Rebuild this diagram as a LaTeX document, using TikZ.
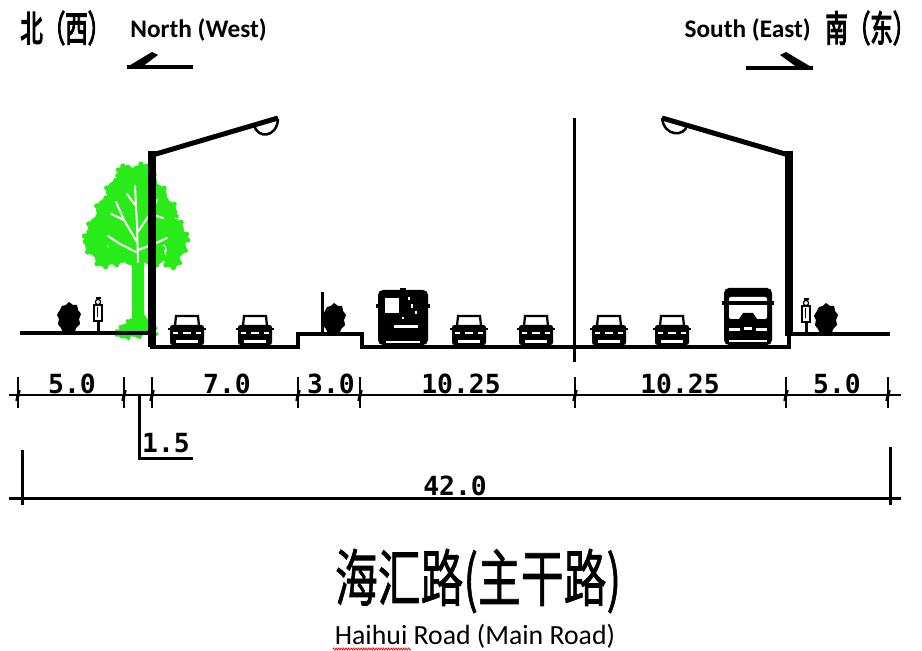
\documentclass[tikz,border=0pt]{standalone}
\usepackage{fontspec}
\usetikzlibrary{decorations.pathmorphing}
\newfontfamily\cjkfont[FakeBold=1.2]{Noto Sans CJK SC}
\newfontfamily\cjkheavy[FakeBold=4]{Noto Sans CJK SC}
\newfontfamily\labelfont{Carlito}
\newfontfamily\dimfont{DejaVu Sans Mono}
\definecolor{leafgreen}{RGB}{40,235,25}

\tikzset{
  ground/.style={line width=0.08cm, line join=miter},
  polestroke/.style={line width=0.15cm},
  armstroke/.style={line width=0.1cm},
  lampstroke/.style={line width=0.05cm},
  dimline/.style={line width=0.06cm},
  tickmark/.style={line width=0.025cm},
  tickslash/.style={line width=0.06cm},
  dimtext/.style={font=\dimfont\bfseries\fontsize{15}{15}\selectfont, inner sep=0pt},
  headcjk/.style={font=\cjkheavy\fontsize{12.8}{13}\selectfont, inner sep=0pt, yscale=1.6},
  headlat/.style={font=\labelfont\bfseries\fontsize{14.4}{15}\selectfont, inner sep=0pt},
  % front view of a car, origin at the middle of its bottom edge
  carfront/.pic={
    \draw[line width=0.045cm, fill=white] (-12,-19) -- (-11,-29) -- (11,-29) -- (12,-19);
    \fill[rounded corners=0.05cm] (-17,0) rectangle (17,-20);
    \fill (-19,-17) rectangle (19,-14.5);
    \fill[white] (-11,-2) rectangle (11,-4.5);
    \fill[white] (-14,-11) rectangle (-9,-12.5);
    \fill[white] (9,-11) rectangle (14,-12.5);
    \fill[white] (-4,-11) rectangle (4,-12.5);
  },
  % dark bus seen from the front
  busdark/.pic={
    \fill[rounded corners=0.1cm] (-25,0) rectangle (25,-55);
    \fill (-3,-57) rectangle (3,-54);
    \fill (-27,-41) rectangle (27,-37);
    \fill[white] (-18,-32) rectangle (-4,-47);
    \fill[white] (8,-37) rectangle (10,-41);
    \fill[white] (12,-31) rectangle (14,-34);
    \fill[white] (5,-45) rectangle (7,-48);
    \fill[white] (-9,-17) rectangle (15,-20);
    \fill[white] (-17,-1.5) rectangle (17,-4);
    \fill[white] (-1,-26) rectangle (1,-28);
  },
  % bus with a large windscreen
  buswindow/.pic={
    \fill[rounded corners=0.1cm] (-24,0) rectangle (24,-57);
    \fill[white, rounded corners=0.04cm] (-19,-48) rectangle (19,-26);
    \fill (-9,-26) -- (-5,-32) -- (5,-32) -- (9,-26) -- cycle;
    \fill[white] (-19,-17) rectangle (-8,-14);
    \fill[white] (8,-17) rectangle (19,-14);
    \fill[white] (-4,-18) rectangle (4,-15);
    \fill[white] (-19,-5) rectangle (19,-2.5);
    \fill (-26,-44) rectangle (26,-40);
  },
  % pedestrian outline
  walker/.pic={
    \fill (-2.5,-36) rectangle (2.5,-34);
    \draw[line width=0.025cm, fill=white] (0,-31) circle (2.6);
    \draw[line width=0.03cm, fill=white] (-4,-28) rectangle (4,-12);
    \draw[line width=0.02cm] (-1,-26) -- (-1,-16);
    \draw[line width=0.06cm] (0,-12) -- (0,0);
  },
  % low shrub
  bush/.pic={
    \fill plot[smooth cycle] coordinates {(-5,0) (-8,-5) (-11,-9) (-10,-14) (-12,-18)
       (-9,-23) (-7,-27) (-3,-28) (0,-31) (4,-28) (8,-28) (9,-23) (12,-19) (10,-14)
       (11,-9) (7,-5) (5,0)};
  }
}

\begin{document}
\begin{tikzpicture}[x=0.02cm, y=-0.02cm]
\useasboundingbox (0,0) rectangle (922,651);

% ---------- direction headers ----------
\node[headcjk, anchor=west] (nw) at (20,28) {北（西）};
\node[headlat, anchor=west] (nwtext) at (130,30) {North (West)};
\node[headlat, anchor=east] (setext) at (811,30) {South (East)};
\node[headcjk, anchor=west] (se) at (825,28) {南（东）};

\coordinate (wtip) at (127,67);
\coordinate (wtail) at (193,67);
\draw[line width=0.065cm] (wtail) -- (wtip);
\fill (wtip) -- (152,52) -- (158,55) -- (142,67) -- cycle;
\coordinate (etip) at (813,68);
\coordinate (etail) at (746,68);
\draw[line width=0.065cm] (etail) -- (etip);
\fill (etip) -- (786,52) -- (780,55) -- (798,68) -- cycle;

% ---------- tree on the west verge ----------
\begin{scope}[leafgreen]
  \fill (132,255) rectangle (144,330);
  \foreach \cx/\cy/\r in {130/180/13, 145/182/12, 118/192/12, 155/196/12, 108/210/12,
      165/212/12, 100/228/12, 172/230/12, 96/245/11, 176/247/10, 104/258/9, 172/260/8,
      120/230/20, 150/230/20, 135/205/18, 135/250/16, 115/255/10, 155/255/10,
      90/238/6, 182/238/6, 124/172/6, 142/170/6} {
    \fill (\cx,\cy) circle (\r);
    \foreach \a in {20,80,...,320}
      \fill (\cx,\cy) ++(\a:\r) circle (2.6);
  }
  \foreach \cx/\cy/\r in {125/330/6, 133/325/7, 142/323/7, 150/328/6, 138/332/6,
      127/334/5, 153/334/4, 120/333/4} {
    \fill (\cx,\cy) circle (\r);
    \foreach \a in {0,72,...,288}
      \fill (\cx,\cy) ++(\a:\r) circle (1.8);
  }
\end{scope}
\begin{scope}[white, line width=0.04cm, line cap=round, line join=round]
  \draw (138,262) -- (137,225) -- (135,186);
  \draw (137,242) -- (124,220) -- (116,202);
  \draw (137,233) -- (150,214) -- (157,200);
  \draw (136,252) -- (120,244) -- (108,236);
  \draw (138,250) -- (154,244) -- (167,238);
  \draw (124,220) -- (111,214);
  \draw (150,214) -- (163,218);
  \draw (135,205) -- (127,194);
\end{scope}

% ---------- ground profile and centre line ----------
\draw[ground] (20,333) -- (152,333) -- (152,347) -- (298,347) -- (298,334)
   -- (362,334) -- (362,347) -- (789,347) -- (789,334) -- (890,334);
\draw[line width=0.06cm] (574,118) -- (574,362);

% ---------- street lamps ----------
\draw[polestroke] (152,347) -- (152,151);
\draw[armstroke] (149,156) -- (278,118);
\draw[lampstroke] (254,125) .. controls (257,139) and (277,138) .. (278,119);
\draw[polestroke] (789,336) -- (789,151);
\draw[armstroke] (792,156) -- (662,118);
\draw[lampstroke] (662,118) .. controls (664,137) and (685,137) .. (687,125);

% ---------- sidewalks and median ----------
\pic (shrubw) at (69,333) {bush};
\pic (pedw) at (98,333) {walker};
\draw[line width=0.06cm] (322,292) -- (322,334);
\pic (shrubm) at (334,334) {bush};
\pic (pede) at (806,334) {walker};
\pic (shrube) at (826,334) {bush};

% ---------- traffic ----------
\pic (car1) at (187,345) {carfront};
\pic (car2) at (255,345) {carfront};
\pic (bus1) at (403,345) {busdark};
\pic (car3) at (469,345) {carfront};
\pic (car4) at (536,345) {carfront};
\pic (car5) at (609,345) {carfront};
\pic (car6) at (672,345) {carfront};
\pic (bus2) at (748,345) {buswindow};

% ---------- widths ----------
\foreach \n/\x in {d0/18, d1/124, d2/152, d3/298, d4/360, d5/575, d6/786, d7/888}
  \coordinate (\n) at (\x,395);
\coordinate (dl) at (9,395);
\coordinate (dr) at (901,395);
\draw[dimline] (dl) -- (dr);
\foreach \n in {d0, d1, d2, d3, d4, d5, d6, d7} {
  \draw[tickmark] ([yshift=0.36cm]\n) -- ([yshift=-0.26cm]\n);
  \draw[tickslash] ([xshift=-0.025cm, yshift=-0.12cm]\n) -- ([xshift=0.025cm, yshift=0.1cm]\n);
}
\node[dimtext] (w1) at (72,384) {5.0};
\node[dimtext] (w2) at (227,384) {7.0};
\node[dimtext] (w3) at (331,384) {3.0};
\node[dimtext] (w4) at (461,384) {10.25};
\node[dimtext] (w5) at (680,384) {10.25};
\node[dimtext] (w6) at (837,384) {5.0};

\coordinate (k1) at (139,395);
\coordinate (k2) at (139,458);
\coordinate (k3) at (193,458);
\draw[dimline] (k1) -- (k2) -- (k3);
\node[dimtext] (w7) at (166,443) {1.5};

\coordinate (b0) at (9,498);
\coordinate (b1) at (901,498);
\coordinate (bl) at (22,450);
\coordinate (bl2) at (22,505);
\coordinate (br) at (890,447);
\coordinate (br2) at (890,505);
\draw[dimline] (b0) -- (b1);
\draw[dimline] (bl) -- (bl2);
\draw[dimline] (br) -- (br2);
\node[dimtext] (total) at (455,486) {42.0};

% ---------- caption ----------
\node[font=\cjkfont\fontsize{24.4}{26}\selectfont, inner sep=0pt, yscale=1.45] (title) at (478,581) {海汇路(主干路)};
\node[font=\labelfont\fontsize{15.8}{17}\selectfont, inner sep=0pt] (sub) at (475,636) {Haihui Road (Main Road)};
\draw[red, line width=0.015cm, decorate, decoration={zigzag, segment length=0.05cm, amplitude=0.02cm}]
  (333,649) -- (411,649);
\end{tikzpicture}
\end{document}
